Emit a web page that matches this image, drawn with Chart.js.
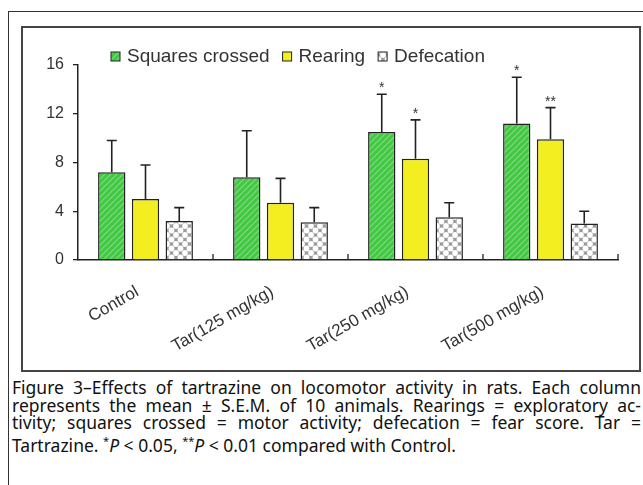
<!DOCTYPE html>
<html>
<head>
<meta charset="utf-8">
<script src="https://cdn.jsdelivr.net/npm/chart.js@4"></script>
<style>
  body { margin: 0; background: #fff; width: 643px; height: 485px; overflow: hidden; position: relative; }
  #outer { position: absolute; left: 8px; top: 11px; width: 700px; height: 600px; border: 1.5px solid #333; }
  #inner { position: absolute; left: 21px; top: 26px; width: 616px; height: 342px; border: 2px solid #444; }
  #wrap { position: absolute; left: 23px; top: 28px; width: 616px; height: 342px; }
  #caption { position: absolute; left: 12px; top: 379px; width: 629px; font-family: "Noto Sans", sans-serif; font-size: 17.5px; line-height: 17.6px; color: #111; }
  #caption div { white-space: nowrap; }
  .j { text-align: justify; text-align-last: justify; }
</style>
</head>
<body>
<div id="outer"></div>
<div id="inner"></div>
<div id="wrap"><canvas id="barChart"></canvas></div>
<div id="caption">
  <div class="j">Figure 3–Effects of tartrazine on locomotor activity in rats. Each column</div>
  <div class="j">represents the mean ± S.E.M. of 10 animals. Rearings = exploratory ac-</div>
  <div class="j">tivity; squares crossed = motor activity; defecation = fear score. Tar =</div>
  <div>Tartrazine. <sup style="font-size:11px">*</sup><i>P</i> &lt; 0.05, <sup style="font-size:11px">**</sup><i>P</i> &lt; 0.01 compared with Control.</div>
</div>
<script>
const groups = ['Control', 'Tar(125 mg/kg)', 'Tar(250 mg/kg)', 'Tar(500 mg/kg)'];
const seriesNames = ['Squares crossed', 'Rearing', 'Defecation'];

const squaresMean = [7.2, 6.8, 10.5, 11.2];
const squaresSem = [2.6, 3.8, 3.1, 3.8];
const squaresSig = ['', '', '*', '*'];

const rearingMean = [5.0, 4.7, 8.3, 9.9];
const rearingSem = [2.8, 2.0, 3.2, 2.6];
const rearingSig = ['', '', '*', '**'];

const defecationMean = [3.2, 3.1, 3.5, 3.0];
const defecationSem = [1.1, 1.2, 1.2, 1.0];
const defecationSig = ['', '', '', ''];

const yTicks = [0, 4, 8, 12, 16];

const FONT = '"Liberation Sans", Arial, sans-serif';

// fill patterns
function makeHatch() {
  const c = document.createElement('canvas');
  c.width = 6; c.height = 6;
  const g = c.getContext('2d');
  g.fillStyle = '#42c942';
  g.fillRect(0, 0, 6, 6);
  g.strokeStyle = '#7edc7e';
  g.lineWidth = 1.2;
  g.beginPath();
  g.moveTo(0, 6); g.lineTo(6, 0);
  g.moveTo(-1, 1); g.lineTo(1, -1);
  g.moveTo(5, 7); g.lineTo(7, 5);
  g.stroke();
  return g.createPattern(c, 'repeat');
}

function makeCross() {
  const c = document.createElement('canvas');
  c.width = 9; c.height = 9;
  const g = c.getContext('2d');
  g.fillStyle = '#9a9a9a';
  g.fillRect(0, 0, 9, 9);
  g.fillStyle = '#ffffff';
  [[0, 0], [9, 0], [0, 9], [9, 9], [4.5, 4.5]].forEach(p => {
    g.beginPath();
    g.arc(p[0], p[1], 2.9, 0, Math.PI * 2);
    g.fill();
  });
  return g.createPattern(c, 'repeat');
}

const fills = [makeHatch(), '#f3ee20', makeCross()];
const sems = [squaresSem, rearingSem, defecationSem];
const sigs = [squaresSig, rearingSig, defecationSig];

const barData = {
  labels: groups,
  datasets: [
    { label: seriesNames[0], data: squaresMean, backgroundColor: fills[0] },
    { label: seriesNames[1], data: rearingMean, backgroundColor: fills[1] },
    { label: seriesNames[2], data: defecationMean, backgroundColor: fills[2] }
  ]
};

// error bars + stars
const errorBars = {
  id: 'errorBars',
  afterDatasetsDraw(chart) {
    const ctx = chart.ctx;
    const y = chart.scales.y;
    ctx.save();
    ctx.strokeStyle = '#222';
    ctx.lineWidth = 1.6;
    ctx.fillStyle = '#333';
    ctx.font = '14px ' + FONT;
    ctx.textAlign = 'center';
    ctx.textBaseline = 'bottom';
    chart.data.datasets.forEach((ds, i) => {
      chart.getDatasetMeta(i).data.forEach((bar, j) => {
        const top = y.getPixelForValue(ds.data[j] + sems[i][j]);
        ctx.beginPath();
        ctx.moveTo(bar.x, bar.y);
        ctx.lineTo(bar.x, top);
        ctx.moveTo(bar.x - 5, top);
        ctx.lineTo(bar.x + 5, top);
        ctx.stroke();
        if (sigs[i][j]) ctx.fillText(sigs[i][j], bar.x, top + 1);
      });
    });
    ctx.restore();
  }
};

// small upward ticks between the groups on the x axis
const groupTicks = {
  id: 'groupTicks',
  afterDraw(chart) {
    const x = chart.scales.x;
    const ctx = chart.ctx;
    const step = x.width / groups.length;
    ctx.save();
    ctx.strokeStyle = '#222';
    ctx.lineWidth = 1.3;
    ctx.beginPath();
    for (let i = 1; i <= groups.length; i++) {
      ctx.moveTo(x.left + i * step, x.top);
      ctx.lineTo(x.left + i * step, x.top - 6);
    }
    ctx.stroke();
    ctx.restore();
  }
};

// legend row above the plot
const topLegend = {
  id: 'topLegend',
  afterDraw(chart) {
    const ctx = chart.ctx;
    const area = chart.chartArea;
    let lx = area.left + 33;
    const ly = area.top - 8;
    ctx.save();
    ctx.font = '19px ' + FONT;
    ctx.textBaseline = 'middle';
    chart.data.datasets.forEach(ds => {
      ctx.fillStyle = ds.backgroundColor;
      ctx.fillRect(lx, ly - 5, 9, 9);
      ctx.strokeStyle = '#222';
      ctx.lineWidth = 1;
      ctx.strokeRect(lx, ly - 5, 9, 9);
      ctx.fillStyle = '#333';
      ctx.fillText(ds.label, lx + 16, ly);
      lx += 16 + ctx.measureText(ds.label).width + 13;
    });
    ctx.restore();
  }
};

const barConfig = {
  type: 'bar',
  data: barData,
  plugins: [errorBars, groupTicks, topLegend],
  options: {
    responsive: true,
    maintainAspectRatio: false,
    animation: false,
    layout: { padding: { top: 37, right: 21, left: 0, bottom: 0 } },
    datasets: {
      bar: {
        categoryPercentage: 0.75,
        barPercentage: 0.81,
        borderWidth: 1.5,
        borderColor: '#222'
      }
    },
    plugins: {
      legend: { display: false },
      tooltip: { enabled: false }
    },
    scales: {
      x: {
        grid: { display: false },
        border: { display: true, color: '#222', width: 1.5 },
        ticks: {
          color: '#333',
          font: { family: FONT, size: 17 },
          minRotation: 30,
          maxRotation: 30,
          padding: 9,
          callback(value) { return this.getLabelForValue(value) + '  '; }
        },
        afterFit(scale) { scale.height = 110; }
      },
      y: {
        min: 0,
        max: 16,
        afterBuildTicks(scale) { scale.ticks = yTicks.map(v => ({ value: v })); },
        grid: { drawOnChartArea: false, tickLength: 5, color: '#222', lineWidth: 1.3 },
        border: { display: true, color: '#222', width: 1.5 },
        ticks: {
          color: '#333',
          font: { family: FONT, size: 16 },
          padding: 9
        },
        afterFit(scale) { scale.width = 55; }
      }
    }
  }
};

const myBarChart = new Chart(document.getElementById('barChart'), barConfig);
</script>
</body>
</html>
